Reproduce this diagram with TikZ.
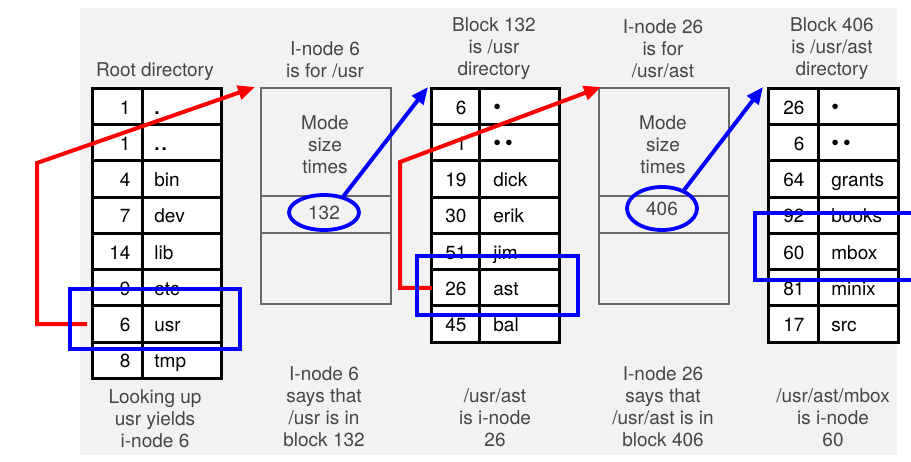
\documentclass[tikz,border=0pt]{standalone}
\usepackage{fontspec}
\setmainfont{TeX Gyre Heros}
\usetikzlibrary{arrows.meta,shapes.geometric,calc}

\definecolor{panel}{RGB}{242,242,242}
\definecolor{labelgray}{RGB}{70,70,70}
\definecolor{boxgray}{RGB}{105,105,105}
\definecolor{hlblue}{RGB}{0,0,255}
\definecolor{hlred}{RGB}{255,0,0}

\newcommand\onedot{{\fontsize{22}{22}\selectfont •}}
\newcommand\twodots{{\fontsize{22}{22}\selectfont •\hspace{4pt}•}}
\newcommand\rootdot{\textbf{.}}
\newcommand\rootdots{\textbf{.}\hspace{2pt}\textbf{.}}

\begin{document}
\begin{tikzpicture}[x=1pt,y=-1pt,
  txt/.style={font=\fontsize{19}{22}\selectfont},
  lbl/.style={txt, text=labelgray, align=center, inner sep=0pt},
  cellbase/.style={draw=black, line width=2.8pt, fill=white, minimum height=36.25pt,
    inner sep=0pt, anchor=north west, txt, text height=16pt, text depth=0.8pt},
  numcell/.style={cellbase, align=right},
  namecell/.style={cellbase, align=left},
  inodebox/.style={draw=boxgray, line width=1.6pt, minimum width=130pt,
    anchor=north west, inner sep=0pt},
  ring/.style={ellipse, draw=hlblue, line width=3.8pt, inner sep=0pt, txt, text=labelgray},
  hilite/.style={draw=hlblue, line width=4pt},
  link/.style={line width=4pt, -{Triangle[length=17pt,width=14pt]}},
]
\useasboundingbox (0,0) rectangle (911,462);

% page panel behind the figure
\fill[panel] (80,8) rectangle (897,455);

% ---- root directory ----
\foreach \num/\name [count=\i from 0] in
  {1/\rootdot, 1/\rootdots, 4/bin, 7/dev, 14/lib, 9/etc, 6/usr, 8/tmp} {
  \node[numcell, minimum width=50pt, text width=26pt] (root-n\i) at (91,{87+36.25*\i}) {\num};
  \node[namecell, minimum width=79pt, text width=55pt] (root-s\i) at (141,{87+36.25*\i}) {\name};
}

% ---- block 132 (/usr) ----
\foreach \num/\name [count=\i from 0] in
  {6/\onedot, 1/\twodots, 19/dick, 30/erik, 51/jim, 26/ast, 45/bal} {
  \node[numcell, minimum width=48pt, text width=22pt] (b132-n\i) at (430,{87+36.25*\i}) {\num};
  \node[namecell, minimum width=80pt, text width=52pt] (b132-s\i) at (478,{87+36.25*\i}) {\name};
}

% ---- block 406 (/usr/ast) ----
\foreach \num/\name [count=\i from 0] in
  {26/\onedot, 6/\twodots, 64/grants, 92/books, 60/mbox, 81/minix, 17/src} {
  \node[numcell, minimum width=50pt, text width=22pt] (b406-n\i) at (767,{87+36.25*\i}) {\num};
  \node[namecell, minimum width=80pt, text width=54pt] (b406-s\i) at (817,{87+36.25*\i}) {\name};
}

% ---- i-node 6 ----
\node[inodebox, minimum height=108pt] (i6-top) at (260,87) {};
\node[inodebox, minimum height=37pt]  (i6-mid) at (260,195) {};
\node[inodebox, minimum height=71pt]  (i6-bot) at (260,232) {};
\node[lbl] (i6-fields) at (325,145) {Mode\\size\\times};
\node[ring, minimum width=70pt, minimum height=35pt] (e132) at (324,212.5) {132};

% ---- i-node 26 ----
\node[inodebox, minimum height=108pt] (i26-top) at (598,87) {};
\node[inodebox, minimum height=37pt]  (i26-mid) at (598,195) {};
\node[inodebox, minimum height=71pt]  (i26-bot) at (598,232) {};
\node[lbl] (i26-fields) at (663,145) {Mode\\size\\times};
\node[ring, minimum width=70pt, minimum height=43pt] (e406) at (662,208.5) {406};

% ---- headings ----
\node[lbl] (h-root) at (155,72) {Root directory};
\node[lbl] (h-i6)   at (325,60) {I-node 6\\is for /usr};
\node[lbl] (h-b132) at (494,49) {Block 132\\is /usr\\directory};
\node[lbl] (h-i26)  at (663,49) {I-node 26\\is for\\/usr/ast};
\node[lbl] (h-b406) at (832,49) {Block 406\\is /usr/ast\\directory};

% ---- captions ----
\node[lbl] (c-root) at (155,419) {Looking up\\usr yields\\i-node 6};
\node[lbl] (c-i6)   at (324,407) {I-node 6\\says that\\/usr is in\\block 132};
\node[lbl] (c-b132) at (495,418) {/usr/ast\\is i-node\\26};
\node[lbl] (c-i26)  at (663,407) {I-node 26\\says that\\/usr/ast is in\\block 406};
\node[lbl] (c-b406) at (833,418) {/usr/ast/mbox\\is i-node\\60};

% ---- lookup path ----
\coordinate (bend-a) at (37,163);
\coordinate (bend-b) at (400,162);
\draw[link, hlred]  ([xshift=-4pt]root-n6.west) -| (bend-a) -- ([xshift=-5pt]i6-top.north west);
\draw[link, hlblue] (e132.40) -- ([xshift=-2pt]b132-n0.north west);
\draw[link, hlred]  ([xshift=2pt]b132-n5.west) -| (bend-b) -- ([xshift=3pt]i26-top.north west);
\draw[link, hlblue] (e406.40) -- ([xshift=-4pt]b406-n0.north west);

% ---- highlighted entries ----
\draw[hilite] (70,289) rectangle (240,349);
\draw[hilite] (417,256) rectangle (578,315);
\draw[hilite] (755,213) rectangle (925,280);
\end{tikzpicture}
\end{document}
